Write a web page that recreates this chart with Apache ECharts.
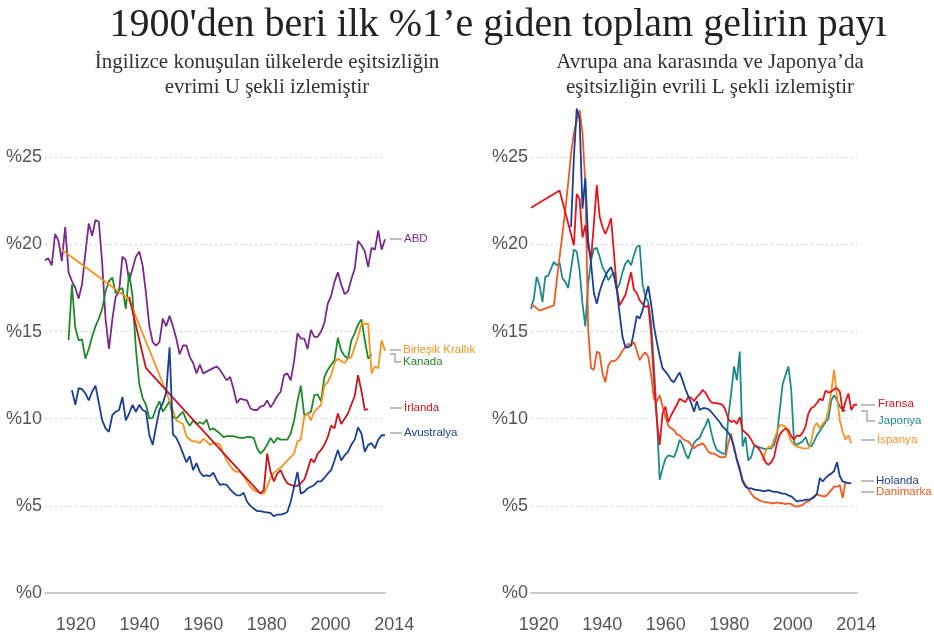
<!DOCTYPE html>
<html>
<head>
<meta charset="utf-8">
<title>1900'den beri ilk %1'e giden toplam gelirin payı</title>
<script src="https://cdn.jsdelivr.net/npm/echarts@6/dist/echarts.min.js"></script>
<style>
html, body { margin: 0; padding: 0; background: #fff; }
#main { width: 934px; height: 638px; }
</style>
</head>
<body>
<div id="main"></div>
<script>
function years(from, to) {
	var a = [];
	for (var y = from; y <= to; y++) a.push(y);
	return a;
}

// x ekseni etiketleri (iki panelde de ayni)
var xLabels = ['1920', '1940', '1960', '1980', '2000', '2014'];

// ---- sol panel: Ingilizce konusulan ulkeler ----
var abdYears = years(1913, 2014);
var abdValues = [
	19.1, 19.2, 18.8, 20.6, 20.2, 19.05, 21.0, 18.4, 17.9, 17.5,
	16.9, 17.7, 19.5, 21.2, 20.5, 21.4, 21.3, 18.9, 15.7, 14.0,
	15.7, 17.0, 17.3, 19.3, 19.1, 17.9, 18.6, 19.3, 19.6, 18.8,
	17.2, 15.3, 14.4, 14.2, 14.4, 15.75, 15.3, 15.9, 15.3, 14.6,
	13.7, 14.2, 14.2, 13.55, 13.2, 12.6, 13.1, 12.6, 12.7, 12.8,
	12.9, 13.0, 12.8, 12.5, 12.2, 12.4, 11.7, 10.9, 11.15, 11.1,
	11.05, 10.6, 10.5, 10.5, 10.7, 10.75, 11.05, 10.65, 10.95, 11.3,
	11.55, 12.5, 12.6, 12.2, 13.3, 14.9, 14.6, 14.6, 14.0, 15.1,
	14.7, 14.7, 15.0, 15.5, 16.6, 17.05, 17.85, 18.4, 17.7, 17.15,
	17.3, 18.0, 18.6, 20.2, 19.95, 19.6, 18.7, 19.8, 19.7, 20.8,
	19.7, 20.3
];

var ukYears = [1918, 1937, 1938].concat(years(1949, 2014));
var ukValues = [
	19.7, 17.0, 16.8,
	11.55, 11.0, 10.5, 9.9, 9.8, 9.7, 9.0, 8.8, 8.7, 8.7,
	8.6, 8.85, 8.7, 8.5, 8.6, 8.6, 8.5, 8.0, 7.6, 7.3,
	7.05, 6.95, 6.95, 6.7, 6.4, 6.1, 5.9, 5.8, 5.75, 5.7,
	6.1, 6.6, 6.9, 7.05, 7.2, 7.4, 7.6, 7.8, 8.0, 8.7,
	8.8, 10.1, 10.3, 9.9, 10.4, 10.6, 10.8, 11.9, 12.1, 12.5,
	13.2, 13.45, 13.3, 13.2, 13.45, 13.55, 14.1, 14.7, 15.45, 15.45,
	15.45, 12.6, 13.0, 12.9, 14.5, 13.9
];

var kanadaYears = years(1920, 2010);
var kanadaValues = [
	14.5, 17.7, 15.2, 14.5, 14.55, 13.45, 14.0, 14.7, 15.3, 15.75,
	16.3, 17.3, 17.9, 18.1, 17.2, 17.4, 17.5, 16.3, 18.4, 17.0,
	14.0, 12.0, 11.2, 10.8, 10.0, 10.05, 10.6, 11.0, 10.4, 10.7,
	11.0, 10.1, 10.0, 10.2, 10.4, 9.9, 9.6, 9.9, 9.7, 9.8,
	9.7, 9.95, 9.35, 9.45, 9.3, 9.15, 8.95, 9.0, 9.0, 9.0,
	8.95, 8.9, 8.9, 8.95, 8.95, 8.9, 8.3, 8.0, 8.2, 8.5,
	8.9, 8.6, 8.9, 8.8, 8.8, 8.8, 9.15, 9.9, 11.0, 11.9,
	10.2, 10.3, 10.4, 11.35, 11.4, 11.0, 12.4, 12.8, 13.1, 13.35,
	14.65, 13.9, 13.6, 13.45, 14.5, 14.9, 15.4, 15.7, 14.5, 13.45,
	13.7
];

var irlandaYears = [1938, 1943].concat(years(1977, 2009));
var irlandaValues = [
	17.0, 12.9,
	5.7, 5.9, 8.0, 6.95, 6.4, 6.85, 7.05, 6.6, 6.3, 6.2,
	6.15, 6.15, 6.3, 6.5, 7.05, 7.7, 7.5, 8.0, 8.2, 8.5,
	8.95, 9.6, 9.45, 10.3, 9.7, 10.0, 10.3, 10.8, 11.3, 12.5,
	11.6, 10.5, 10.55
];

var avustralyaYears = years(1921, 2014);
var avustralyaValues = [
	11.65, 10.8, 11.75, 11.7, 11.45, 11.05, 11.55, 11.9, 10.9, 9.9,
	9.45, 9.25, 10.2, 10.4, 10.5, 11.25, 9.9, 10.3, 10.8, 10.4,
	10.8, 10.5, 10.4, 9.05, 8.5, 9.55, 10.5, 10.9, 11.5, 14.1,
	9.1, 8.9, 8.5, 8.0, 7.5, 7.85, 7.05, 7.45, 6.95, 6.7,
	6.75, 6.7, 6.9, 6.5, 6.2, 6.25, 6.2, 5.95, 5.75, 5.6,
	5.6, 5.75, 5.25, 5.0, 4.85, 4.7, 4.7, 4.65, 4.62, 4.6,
	4.4, 4.5, 4.5, 4.55, 4.65, 5.25, 6.1, 6.95, 5.7, 5.8,
	6.0, 6.1, 6.2, 6.4, 6.4, 6.6, 6.85, 7.05, 7.6, 8.2,
	7.6, 7.9, 8.1, 8.5, 8.8, 9.5, 9.15, 8.1, 8.5, 8.6,
	8.3, 8.8, 9.05, 9.05
];

// ---- sag panel: kita Avrupasi ve Japonya ----
var fransaYears = [1900, 1910].concat(years(1915, 2014));
var fransaValues = [
	22.1, 23.1,
	19.95, 22.9, 22.6, 20.4, 21.1, 19.85, 19.2, 21.2, 23.4, 21.6,
	21.0, 20.6, 21.0, 21.5, 19.5, 17.5, 16.5, 16.8, 17.1, 17.75,
	18.4, 17.4, 17.2, 16.8, 16.6, 16.4, 16.5, 14.9, 12.2, 9.9,
	8.5, 10.3, 10.7, 9.8, 10.2, 10.5, 10.8, 11.15, 11.05, 10.95,
	11.25, 11.2, 11.0, 11.25, 11.4, 11.65, 11.5, 11.2, 10.95, 10.9,
	10.9, 10.85, 10.8, 10.5, 10.0, 9.8, 9.9, 9.7, 10.1, 9.35,
	9.2, 9.05, 8.8, 8.5, 8.4, 8.2, 7.9, 7.5, 7.35, 7.5,
	7.8, 8.6, 9.1, 9.3, 9.45, 9.35, 9.0, 8.8, 9.05, 9.0,
	9.2, 9.55, 10.3, 10.6, 10.7, 10.9, 11.15, 11.05, 11.6, 11.5,
	11.55, 11.7, 11.75, 11.55, 10.4, 11.0, 11.45, 10.5, 10.8, 10.8
];

var japonyaYears = years(1900, 2010);
var japonyaValues = [
	16.3, 16.9, 18.15, 17.65, 16.7, 18.15, 18.2, 18.6, 19.0, 18.8,
	18.95, 18.05, 17.85, 17.5, 18.6, 19.7, 19.6, 18.5, 16.6, 15.3,
	17.75, 19.1, 19.75, 19.8, 19.3, 18.7, 18.4, 17.95, 18.2, 18.4,
	17.4, 17.75, 18.4, 18.9, 19.1, 18.8, 19.4, 19.85, 19.95, 17.75,
	17.0, 16.7, 15.5, 13.0, 10.1, 6.5, 7.15, 7.7, 7.9, 7.85,
	7.8, 8.2, 8.8, 8.5, 8.0, 7.7, 8.2, 8.6, 8.8, 8.9,
	9.3, 9.6, 10.0, 9.25, 8.6, 8.2, 8.1, 8.0, 8.0, 10.1,
	11.45, 13.0, 12.2, 13.85, 8.4, 8.95, 7.6, 7.8, 8.4, 8.4,
	8.35, 8.3, 8.25, 8.3, 8.3, 8.5, 9.05, 10.5, 12.0, 12.5,
	13.0, 11.65, 8.6, 8.5, 8.6, 8.7, 8.95, 8.5, 8.4, 8.7,
	9.05, 9.3, 9.55, 9.8, 10.0, 11.05, 11.35, 11.05, 10.7, 10.5,
	10.45
];

var ispanyaYears = years(1981, 2012);
var ispanyaValues = [
	7.6, 8.1, 8.4, 8.35, 8.8, 9.25, 9.65, 9.6, 9.55, 9.1,
	8.7, 8.5, 8.4, 8.35, 8.3, 8.3, 8.3, 8.7, 9.55, 9.75,
	9.45, 9.7, 9.9, 10.5, 11.55, 12.8, 11.25, 9.9, 9.25, 8.8,
	9.05, 8.6
];

var holandaYears = years(1914, 2012);
var holandaValues = [
	21.0, 25.0, 27.8, 27.2, 22.05, 23.8, 20.2, 18.9, 17.2, 16.6,
	17.3, 17.8, 18.2, 18.5, 18.7, 18.2, 17.4, 16.0, 14.7, 14.1,
	14.1, 14.2, 15.0, 15.9, 15.75, 16.2, 17.0, 17.6, 16.6, 15.3,
	14.4, 13.6, 12.9, 12.7, 12.5, 12.2, 12.1, 12.4, 12.65, 12.2,
	11.7, 11.3, 10.9, 10.4, 11.0, 10.5, 10.6, 10.6, 10.55, 10.4,
	10.2, 10.0, 9.8, 9.55, 9.4, 9.2, 8.9, 8.4, 7.6, 7.05,
	6.4, 6.1, 6.0, 6.0, 5.95, 5.9, 5.9, 5.85, 5.85, 5.9,
	5.85, 5.8, 5.8, 5.75, 5.7, 5.7, 5.6, 5.55, 5.4, 5.25,
	5.3, 5.3, 5.35, 5.35, 5.4, 5.5, 5.7, 6.6, 6.4, 6.6,
	6.75, 6.85, 7.0, 7.5, 6.7, 6.4, 6.35, 6.3, 6.3
];

var danimarkaYears = [1900, 1903, 1908].concat(years(1909, 2010));
var danimarkaValues = [
	16.6, 16.2, 16.5,
	17.9, 19.3, 20.6, 22.0, 23.5, 25.2, 26.4, 27.1, 27.7, 26.4,
	23.5, 15.1, 12.9, 12.8, 13.85, 13.75, 12.6, 12.1, 13.05, 13.3,
	13.3, 13.4, 13.6, 13.9, 14.1, 14.3, 14.2, 14.4, 13.9, 13.35,
	13.65, 13.8, 13.55, 12.5, 11.15, 11.0, 11.35, 10.7, 10.1, 9.6,
	9.45, 9.35, 9.1, 9.05, 8.85, 8.75, 8.7, 8.5, 8.3, 8.45,
	8.5, 8.6, 8.4, 8.1, 8.0, 8.0, 7.9, 7.8, 7.8, 7.8,
	8.6, 9.15, 8.2, 7.7, 7.2, 6.5, 6.2, 6.0, 5.7, 5.5,
	5.4, 5.3, 5.25, 5.2, 5.2, 5.15, 5.15, 5.2, 5.15, 5.15,
	5.1, 5.15, 5.1, 5.0, 4.95, 5.0, 5.05, 5.2, 5.25, 5.4,
	5.55, 5.65, 5.6, 5.55, 5.55, 5.7, 5.9, 6.1, 6.1, 6.2,
	5.45, 6.4
];

var renk = {
	abd: '#7a2a8c',
	uk: '#f7931e',
	kanada: '#1f8a2a',
	irlanda: '#c8161d',
	avustralya: '#1b3f94',
	fransa: '#e8121a',
	japonya: '#1c8b89',
	ispanya: '#f7931e',
	holanda: '#1b3f94',
	danimarka: '#f05a22'
};

var sansFont = '"Liberation Sans", Arial, sans-serif';
var serifFont = '"Liberation Serif", "Times New Roman", serif';

function pairs(ys, vs) {
	return ys.map(function (y, i) { return [y, vs[i]]; });
}

function lineSeries(name, grid, ys, vs, color) {
	return {
		name: name,
		type: 'line',
		xAxisIndex: grid,
		yAxisIndex: grid,
		data: pairs(ys, vs),
		showSymbol: false,
		symbol: 'none',
		silent: true,
		clip: false,
		lineStyle: { color: color, width: 1.8 },
		itemStyle: { color: color }
	};
}

function dataXAxis(grid, min, max) {
	return {
		gridIndex: grid, type: 'value', min: min, max: max,
		axisLine: { show: true, onZero: false, lineStyle: { color: '#cccccc', width: 2 } },
		axisTick: { show: false },
		axisLabel: { show: false },
		splitLine: { show: false }
	};
}

function labelXAxis(grid) {
	return {
		gridIndex: grid, type: 'category', data: xLabels, boundaryGap: true,
		axisLine: { show: false },
		axisTick: { show: false },
		splitLine: { show: false },
		axisLabel: { margin: 23, fontSize: 18, color: '#555', fontFamily: sansFont, interval: 0 }
	};
}

function valueYAxis(grid) {
	return {
		gridIndex: grid, type: 'value', min: 0, max: 28, interval: 5,
		axisLine: { show: false },
		axisTick: { show: false },
		axisLabel: {
			margin: 3, fontSize: 18, color: '#555', fontFamily: sansFont,
			showMaxLabel: false,
			formatter: function (v) { return v % 5 === 0 ? '%' + v : ''; }
		},
		splitLine: {
			show: true, showMinLine: false, showMaxLine: false,
			lineStyle: { color: '#d2d2d2', type: [2, 3], width: 1 }
		}
	};
}

// seri sonu etiketleri ve kilavuz cizgileri
var etiketler = [
	{ text: 'ABD', x: 404, y: 239, color: renk.abd, line: [[390, 239], [402, 239]] },
	{ text: 'Birleşik Krallık', x: 403, y: 350, color: renk.uk, line: [[390, 350], [401, 350]] },
	{ text: 'Kanada', x: 403, y: 362, color: renk.kanada, line: [[390, 354], [395, 354], [395, 362], [401, 362]] },
	{ text: 'İrlanda', x: 404, y: 408, color: renk.irlanda, line: [[390, 408], [402, 408]] },
	{ text: 'Avustralya', x: 404, y: 433, color: renk.avustralya, line: [[390, 433], [402, 433]] },
	{ text: 'Fransa', x: 878, y: 404, color: renk.fransa, line: [[861, 405], [875, 405]] },
	{ text: 'Japonya', x: 878, y: 421, color: renk.japonya, line: [[861, 411], [867, 411], [867, 421], [875, 421]] },
	{ text: 'İspanya', x: 877, y: 440, color: renk.ispanya, line: [[861, 440], [875, 440]] },
	{ text: 'Holanda', x: 876, y: 481, color: renk.holanda, line: [[861, 481], [874, 481]] },
	{ text: 'Danimarka', x: 876, y: 492, color: renk.danimarka, line: [[861, 492], [874, 492]] }
];

var graphics = [];
etiketler.forEach(function (e) {
	graphics.push({
		type: 'polyline', silent: true,
		shape: { points: e.line },
		style: { stroke: '#aaaaaa', lineWidth: 1.5, fill: null }
	});
	graphics.push({
		type: 'text', silent: true, x: e.x, y: e.y,
		style: { text: e.text, fill: e.color, fontSize: 11.5, fontFamily: sansFont, verticalAlign: 'middle', align: 'left' }
	});
});

var chart = echarts.init(document.getElementById('main'), null, { renderer: 'canvas' });
chart.setOption({
	animation: false,
	backgroundColor: '#ffffff',
	title: [
		{
			text: '1900\'den beri ilk %1’e giden toplam gelirin payı',
			left: 493, top: 0, textAlign: 'center',
			textStyle: { fontFamily: serifFont, fontSize: 40, fontWeight: 'normal', color: '#222' }
		},
		{
			text: 'İngilizce konuşulan ülkelerde eşitsizliğin\nevrimi U şekli izlemiştir',
			left: 262, top: 45, textAlign: 'center',
			textStyle: { fontFamily: serifFont, fontSize: 21, lineHeight: 25, fontWeight: 'normal', color: '#333' }
		},
		{
			text: 'Avrupa ana karasında ve Japonya’da\neşitsizliğin evrili L şekli izlemiştir',
			left: 705, top: 45, textAlign: 'center',
			textStyle: { fontFamily: serifFont, fontSize: 21, lineHeight: 25, fontWeight: 'normal', color: '#333' }
		}
	],
	grid: [
		{ left: 45, width: 340, top: 105, bottom: 45 },
		{ left: 531, width: 326, top: 105, bottom: 45 },
		{ left: 44, width: 382, top: 105, bottom: 45 },
		{ left: 507, width: 381, top: 105, bottom: 45 }
	],
	xAxis: [
		dataXAxis(0, 1913, 2014),
		dataXAxis(1, 1900, 2014),
		labelXAxis(2),
		labelXAxis(3)
	],
	yAxis: [
		valueYAxis(0),
		valueYAxis(1),
		{ gridIndex: 2, type: 'value', show: false },
		{ gridIndex: 3, type: 'value', show: false }
	],
	series: [
		lineSeries('ABD', 0, abdYears, abdValues, renk.abd),
		lineSeries('Kanada', 0, kanadaYears, kanadaValues, renk.kanada),
		lineSeries('Birleşik Krallık', 0, ukYears, ukValues, renk.uk),
		lineSeries('İrlanda', 0, irlandaYears, irlandaValues, renk.irlanda),
		lineSeries('Avustralya', 0, avustralyaYears, avustralyaValues, renk.avustralya),
		lineSeries('Japonya', 1, japonyaYears, japonyaValues, renk.japonya),
		lineSeries('Danimarka', 1, danimarkaYears, danimarkaValues, renk.danimarka),
		lineSeries('İspanya', 1, ispanyaYears, ispanyaValues, renk.ispanya),
		lineSeries('Fransa', 1, fransaYears, fransaValues, renk.fransa),
		lineSeries('Holanda', 1, holandaYears, holandaValues, renk.holanda)
	],
	graphic: graphics
});
</script>
</body>
</html>
